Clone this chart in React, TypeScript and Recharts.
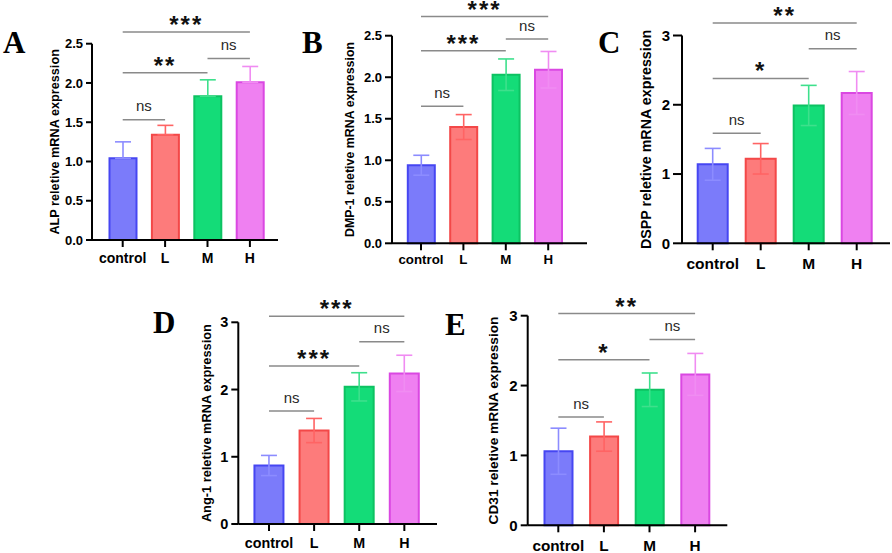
import { BarChart, Bar, XAxis, YAxis, ErrorBar, ReferenceLine, Cell } from "recharts";

const groups = ["control", "L", "M", "H"];

// bar colours per group
const fills = ["#7b7bfa", "#fd7b7b", "#14dc78", "#ef80f1"];
const strokes = ["#4646f2", "#f34848", "#0dc262", "#da48e2"];
const errColors = ["#8c8cff", "#ff6464", "#3ee08c", "#f08cf2"];

// means and SD
const alpMean = [1.04, 1.34, 1.83, 2.01];
const alpErr = [0.21, 0.12, 0.21, 0.2];
const dmpMean = [0.94, 1.4, 2.03, 2.09];
const dmpErr = [0.12, 0.15, 0.19, 0.22];
const dsppMean = [1.14, 1.22, 1.99, 2.17];
const dsppErr = [0.23, 0.22, 0.29, 0.31];
const angMean = [0.87, 1.39, 2.04, 2.24];
const angErr = [0.15, 0.18, 0.21, 0.27];
const cd31Mean = [1.06, 1.27, 1.94, 2.16];
const cd31Err = [0.33, 0.21, 0.24, 0.3];

const ticks25 = [0, 0.5, 1, 1.5, 2, 2.5];
const ticks3 = [0, 1, 2, 3];

type Bracket = { from: string; to: string; y: number; text: string };

const alpSig: Bracket[] = [
  { from: "control", to: "H", y: 2.65, text: "***" },
  { from: "M", to: "H", y: 2.31, text: "ns" },
  { from: "control", to: "M", y: 2.13, text: "**" },
  { from: "control", to: "L", y: 1.53, text: "ns" },
];
const dmpSig: Bracket[] = [
  { from: "control", to: "H", y: 2.73, text: "***" },
  { from: "M", to: "H", y: 2.46, text: "ns" },
  { from: "control", to: "M", y: 2.32, text: "***" },
  { from: "control", to: "L", y: 1.65, text: "ns" },
];
const dsppSig: Bracket[] = [
  { from: "control", to: "H", y: 3.18, text: "**" },
  { from: "M", to: "H", y: 2.81, text: "ns" },
  { from: "control", to: "M", y: 2.38, text: "*" },
  { from: "control", to: "L", y: 1.59, text: "ns" },
];
const angSig: Bracket[] = [
  { from: "control", to: "H", y: 3.09, text: "***" },
  { from: "M", to: "H", y: 2.71, text: "ns" },
  { from: "control", to: "M", y: 2.35, text: "***" },
  { from: "control", to: "L", y: 1.68, text: "ns" },
];
const cd31Sig: Bracket[] = [
  { from: "control", to: "H", y: 3.03, text: "**" },
  { from: "M", to: "H", y: 2.66, text: "ns" },
  { from: "control", to: "M", y: 2.37, text: "*" },
  { from: "control", to: "L", y: 1.55, text: "ns" },
];

const panels = [
  {
    letter: "A", lx: 3, ly: 53,
    yLabel: "ALP reletive mRNA expression",
    mean: alpMean, err: alpErr, upperOnly: true, sig: alpSig, max: 2.5, ticks: ticks25,
    left: 0, top: 0, w: 290, h: 290,
    plotLeft: 92, plotRight: 278, yTop: 43.7, yBottom: 240,
    padL: 9.5, padR: 6.9, barSize: 27, xFont: 14, yFont: 13, labelFont: 12.7, labelX: 55, tickMargin: 5.7, yTick: 6,
  },
  {
    letter: "B", lx: 302, ly: 53,
    yLabel: "DMP-1 reletive mRNA expression",
    mean: dmpMean, err: dmpErr, upperOnly: false, sig: dmpSig, max: 2.5, ticks: ticks25,
    left: 290, top: 0, w: 300, h: 290,
    plotLeft: 392, plotRight: 587, yTop: 35.7, yBottom: 243.3,
    padL: 7.8, padR: 17.6, barSize: 27, xFont: 13.3, yFont: 13, labelFont: 12.4, labelX: 350, tickMargin: 4, yTick: 7,
  },
  {
    letter: "C", lx: 598, ly: 53,
    yLabel: "DSPP reletive mRNA expression",
    mean: dsppMean, err: dsppErr, upperOnly: false, sig: dsppSig, max: 3, ticks: ticks3,
    left: 590, top: 0, w: 302, h: 290,
    plotLeft: 682, plotRight: 890, yTop: 35.5, yBottom: 243.3,
    padL: 6.7, padR: 9.3, barSize: 30, xFont: 15.5, yFont: 15, labelFont: 14.3, labelX: 646, tickMargin: 8.1, yTick: 9,
  },
  {
    letter: "D", lx: 153, ly: 333,
    yLabel: "Ang-1 reletive mRNA expression",
    mean: angMean, err: angErr, upperOnly: false, sig: angSig, max: 3, ticks: ticks3,
    left: 145, top: 280, w: 300, h: 290,
    plotLeft: 238.3, plotRight: 437, yTop: 322.3, yBottom: 524,
    padL: 8.15, padR: 10.1, barSize: 29, xFont: 14.3, yFont: 14.5, labelFont: 12.8, labelX: 206, tickMargin: 6.9, yTick: 7,
  },
  {
    letter: "E", lx: 445, ly: 335,
    yLabel: "CD31 reletive mRNA expression",
    mean: cd31Mean, err: cd31Err, upperOnly: false, sig: cd31Sig, max: 3, ticks: ticks3,
    left: 440, top: 280, w: 300, h: 290,
    plotLeft: 527.7, plotRight: 727.3, yTop: 315.7, yBottom: 525.3,
    padL: 7.8, padR: 9.4, barSize: 28, xFont: 15.3, yFont: 15, labelFont: 13.7, labelX: 493, tickMargin: 7.9, yTick: 7,
  },
];

const Y_AXIS_W = 40;
const X_AXIS_H = 30;

function Panel({ p }: { p: (typeof panels)[number] }) {
  const data = groups.map((g, i) => {
    const row: Record<string, any> = { group: g, mean: p.mean[i] };
    groups.forEach((_, j) => {
      row[`e${j}`] = j === i ? (p.upperOnly ? [0, p.err[i]] : p.err[i]) : null;
    });
    return row;
  });

  const margin = {
    top: p.yTop - p.top,
    left: p.plotLeft - p.left - Y_AXIS_W,
    right: p.left + p.w - p.plotRight,
    bottom: p.top + p.h - p.yBottom - X_AXIS_H,
  };

  return (
    <div style={{ position: "absolute", left: p.left, top: p.top }}>
      <BarChart width={p.w} height={p.h} data={data} margin={margin}>
        <XAxis
          dataKey="group"
          height={X_AXIS_H}
          interval={0}
          padding={{ left: p.padL, right: p.padR }}
          axisLine={{ stroke: "#000", strokeWidth: 2 }}
          tickLine={{ stroke: "#000", strokeWidth: 2 }}
          tickSize={7}
          tickMargin={p.tickMargin}
          tick={{ fill: "#000", fontSize: p.xFont, fontWeight: 700 }}
        />
        <YAxis
          type="number"
          domain={[0, p.max]}
          ticks={p.ticks}
          width={Y_AXIS_W}
          axisLine={{ stroke: "#000", strokeWidth: 2 }}
          tickLine={{ stroke: "#000", strokeWidth: 2 }}
          tickSize={p.yTick}
          tickMargin={3}
          tickFormatter={(v: number) => (p.max === 2.5 ? v.toFixed(1) : String(v))}
          tick={{ fill: "#000", fontSize: p.yFont, fontWeight: 700 }}
          label={{
            value: p.yLabel,
            angle: -90,
            position: "insideLeft",
            offset: p.labelX - (p.plotLeft - Y_AXIS_W),
            style: { textAnchor: "middle", fontSize: p.labelFont, fontWeight: 700, fill: "#000" },
          }}
        />
        <Bar dataKey="mean" barSize={p.barSize} strokeWidth={2} isAnimationActive={false}>
          {data.map((d, i) => (
            <Cell key={d.group} fill={fills[i]} stroke={strokes[i]} />
          ))}
          {groups.map((g, i) => (
            <ErrorBar
              key={g}
              dataKey={`e${i}`}
              direction="y"
              width={8}
              stroke={errColors[i]}
              strokeWidth={1.6}
              isAnimationActive={false}
            />
          ))}
        </Bar>
        {p.sig.map((b, i) => {
          const star = b.text !== "ns";
          return (
            <ReferenceLine
              key={i}
              segment={[
                { x: b.from, y: b.y },
                { x: b.to, y: b.y },
              ]}
              ifOverflow="visible"
              stroke="#8a8a8a"
              strokeWidth={1.5}
              label={{
                value: b.text,
                position: "top",
                offset: star ? -1 : 8.5,
                fill: star ? "#111" : "#2a2a2a",
                fontSize: star ? 24 : 15,
                fontWeight: star ? 700 : 400,
                letterSpacing: star ? 2 : 0,
              }}
            />
          );
        })}
      </BarChart>
    </div>
  );
}

export default function App() {
  return (
    <div
      style={{
        position: "absolute",
        left: 0,
        top: 0,
        width: 892,
        height: 553,
        overflow: "hidden",
        background: "#fff",
        fontFamily: "'Liberation Sans', Arial, sans-serif",
      }}
    >
      {panels.map((p) => (
        <Panel key={p.letter} p={p} />
      ))}
      <svg width={892} height={553} style={{ position: "absolute", left: 0, top: 0, pointerEvents: "none" }}>
        {panels.map((p) => (
          <text
            key={p.letter}
            x={p.lx}
            y={p.ly}
            fontFamily="'Liberation Serif', 'Times New Roman', serif"
            fontWeight={700}
            fontSize={31}
            fill="#000"
          >
            {p.letter}
          </text>
        ))}
      </svg>
    </div>
  );
}
